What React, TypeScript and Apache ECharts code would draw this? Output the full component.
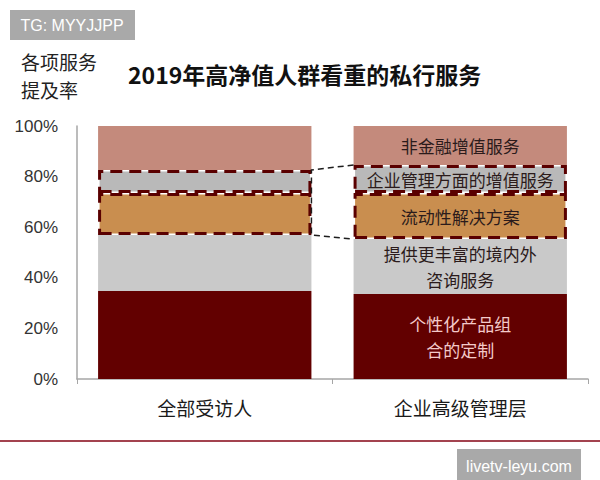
import React, { useEffect, useRef } from 'react';
import * as echarts from 'echarts';

const categories = ['全部受访人', '企业高级管理层'];
const segmentNames = [
  '个性化产品组合的定制',
  '提供更丰富的境内外咨询服务',
  '流动性解决方案',
  '企业管理方面的增值服务',
  '非金融增值服务',
];
const segmentLabels = [
  '个性化产品组\n合的定制',
  '提供更丰富的境内外\n咨询服务',
  '流动性解决方案',
  '企业管理方面的增值服务',
  '非金融增值服务',
];
// bottom -> top, percent of respondents
const allRespondents = [34.8, 22.1, 16.6, 9.1, 17.4];
const seniorExecutives = [33.6, 21.7, 18.2, 11.1, 15.4];
const boxedSegments = [2, 3];
const segmentColors = ['#620000', '#c9c9c9', '#c98e4f', '#b9b9b9', '#c48a7c'];
const yTickStep = 20;

const FONT_CJK = '"Noto Sans CJK SC", sans-serif';
const FONT_LATIN = '"Liberation Sans", Arial, sans-serif';

export default function App() {
  const ref = useRef<HTMLDivElement>(null);

  useEffect(() => {
    document.body.style.margin = '0';
    const chart = echarts.init(ref.current!, null, { renderer: 'svg' });
    const barFrac = 0.835;
    const cum = (arr: number[], n: number) => arr.slice(0, n).reduce((a, b) => a + b, 0);
    const boxLow = Math.min(...boxedSegments);
    const boxHigh = Math.max(...boxedSegments) + 1;
    const connector = [
      cum(allRespondents, boxHigh),
      cum(allRespondents, boxLow),
      cum(seniorExecutives, boxHigh),
      cum(seniorExecutives, boxLow),
    ];

    const barSeries = segmentNames.map((name, i) => {
      const boxed = boxedSegments.includes(i);
      return {
        type: 'bar',
        name,
        stack: 'total',
        barWidth: '83.5%',
        itemStyle: { color: segmentColors[i] },
        data: [allRespondents[i], seniorExecutives[i]].map((v) =>
          boxed
            ? {
                value: v,
                itemStyle: {
                  color: segmentColors[i],
                  borderColor: '#5a0000',
                  borderWidth: 3,
                  borderType: [12, 7],
                },
              }
            : v
        ),
        label: {
          show: true,
          position: 'inside',
          formatter: (p: any) => (p.dataIndex === 1 ? segmentLabels[i] : ''),
          color: i === 0 ? '#f3caca' : '#2b1b1b',
          fontSize: 17,
          lineHeight: 26,
          fontFamily: FONT_CJK,
        },
        z: boxed ? 3 : 2,
      };
    });

    const connectorSeries = {
      type: 'custom',
      silent: true,
      z: 10,
      data: [[0, ...connector]],
      encode: { x: 0, y: 1 },
      renderItem: (params: any, api: any) => {
        const half = (api.size([1, 0])[0] * barFrac) / 2;
        const a = api.coord([0, api.value(1)]);
        const b = api.coord([0, api.value(2)]);
        const c = api.coord([1, api.value(3)]);
        const d = api.coord([1, api.value(4)]);
        return {
          type: 'polyline',
          shape: {
            points: [
              [c[0] - half, c[1]],
              [a[0] + half, a[1]],
              [b[0] + half, b[1]],
              [d[0] - half, d[1]],
            ],
          },
          style: { stroke: '#1e1e1e', lineWidth: 1.5, lineDash: [6, 4], fill: null },
        };
      },
    };

    chart.setOption({
      animation: false,
      backgroundColor: '#ffffff',
      grid: { left: 77, right: 12, top: 126, bottom: 101, containLabel: false },
      xAxis: {
        type: 'category',
        data: categories,
        axisLine: { show: true, lineStyle: { color: '#a6a6a6', width: 1.5 } },
        axisTick: { show: true, length: 5, lineStyle: { color: '#a6a6a6' } },
        axisLabel: { fontSize: 19, color: '#1a1a1a', margin: 19, fontFamily: FONT_CJK },
      },
      yAxis: {
        type: 'value',
        min: 0,
        max: 100,
        interval: yTickStep,
        axisLine: { show: true, lineStyle: { color: '#a6a6a6', width: 1.5 } },
        axisTick: { show: false },
        splitLine: { show: false },
        axisLabel: {
          formatter: '{value}%',
          fontSize: 17,
          color: '#333333',
          margin: 19,
          fontFamily: FONT_LATIN,
        },
      },
      series: [...barSeries, connectorSeries],
      graphic: [
        {
          type: 'rect',
          shape: { x: 10, y: 10, width: 125, height: 30 },
          style: { fill: '#a9a9a9' },
        },
        {
          type: 'text',
          x: 72,
          y: 25,
          style: {
            text: 'TG: MYYJJPP',
            fill: '#ffffff',
            font: `16px ${FONT_LATIN}`,
            align: 'center',
            verticalAlign: 'middle',
          },
        },
        {
          type: 'text',
          x: 21,
          y: 75,
          style: {
            text: '各项服务\n提及率',
            fill: '#222222',
            font: `19px ${FONT_CJK}`,
            lineHeight: 28,
            align: 'left',
            verticalAlign: 'middle',
          },
        },
        {
          type: 'text',
          x: 128,
          y: 74,
          style: {
            text: '2019年高净值人群看重的私行服务',
            fill: '#111111',
            font: `bold 23px ${FONT_CJK}`,
            align: 'left',
            verticalAlign: 'middle',
          },
        },
        {
          type: 'line',
          shape: { x1: 0, y1: 441, x2: 600, y2: 441 },
          style: { stroke: '#a3434f', lineWidth: 2 },
        },
        {
          type: 'rect',
          shape: { x: 457, y: 449, width: 124, height: 34 },
          style: { fill: '#a9a9a9' },
        },
        {
          type: 'text',
          x: 519,
          y: 466,
          style: {
            text: 'livetv-leyu.com',
            fill: '#ffffff',
            font: `16px ${FONT_LATIN}`,
            align: 'center',
            verticalAlign: 'middle',
          },
        },
      ],
    });

    return () => chart.dispose();
  }, []);

  return <div ref={ref} style={{ width: 600, height: 480 }} />;
}
